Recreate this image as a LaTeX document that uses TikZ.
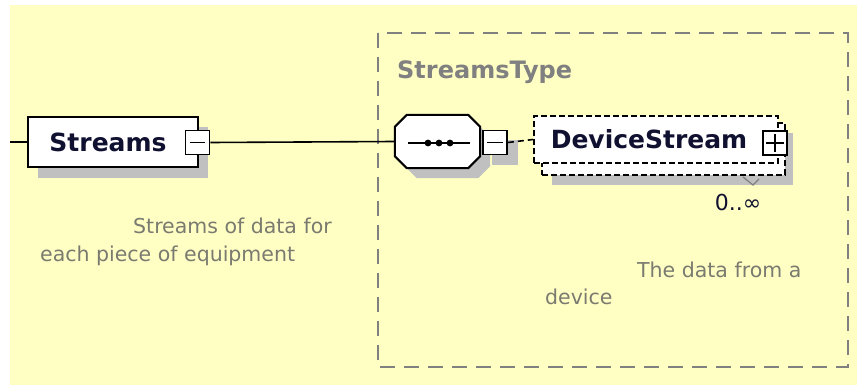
\documentclass[tikz,border=0pt]{standalone}
\usepackage{fontspec}
\setmainfont{DejaVu Sans}
\definecolor{bgyellow}{HTML}{FFFFC4}
\definecolor{shadowgray}{HTML}{C0C0C0}
\definecolor{framegray}{HTML}{808080}
\definecolor{navy}{HTML}{101030}
\definecolor{desc}{HTML}{7A7A70}
\tikzset{
  elembox/.style={draw=black, fill=white, line width=2pt, inner sep=0pt, font=\bfseries\fontsize{25}{28}\selectfont, text=navy},
  optbox/.style={elembox, dashed, dash pattern=on 6pt off 3pt},
  smallbox/.style={draw=black, fill=white, line width=1.8pt, minimum width=24pt, minimum height=24pt, inner sep=0pt},
  shadowfill/.style={fill=shadowgray, draw=none},
  seqbase/.style={minimum width=85pt, minimum height=53pt, inner sep=0pt},
  container/.style={draw=framegray, line width=2pt, dash pattern=on 15pt off 9pt},
  typelabel/.style={text=framegray, font=\bfseries\fontsize{24}{28}\selectfont, inner sep=0pt},
  desctext/.style={text=desc, font=\fontsize{20.5}{24}\selectfont, inner sep=0pt},
  conn/.style={draw=black, line width=1.6pt},
}
\newcommand{\octof}[1]{([xshift=12pt]#1.north west) -- ([xshift=-12pt]#1.north east) -- ([yshift=-12pt]#1.north east)
  -- ([yshift=12pt]#1.south east) -- ([xshift=-12pt]#1.south east) -- ([xshift=12pt]#1.south west)
  -- ([yshift=12pt]#1.south west) -- ([yshift=-12pt]#1.north west) -- cycle}
\begin{document}
\begin{tikzpicture}[x=1pt,y=-1pt]
\useasboundingbox (0,0) rectangle (857,385);
\fill[bgyellow] (10,5) rectangle (857,385);
% container
\draw[container] (378,33) rectangle (848,367);
\node[typelabel, anchor=base west] (stype) at (397,79) {StreamsType};
% Streams element
\fill[shadowfill] (38,127) rectangle (208,178);
\node[elembox, minimum width=170pt, minimum height=50pt] (streams) at (113,142) {\hspace*{-10pt}Streams};
\node[smallbox] (sminus) at (197.5,142.5) {};
\draw[line width=1.6pt] ([xshift=5pt]sminus.west) -- ([xshift=-5pt]sminus.east);
\coordinate (inlet) at (10,142);
\draw[conn] (inlet) -- (streams.west);
% sequence
\node[seqbase] (seqsh) at (447.5,151.5) {};
\node[seqbase] (seq) at (437.5,141.5) {};
\fill[shadowfill] \octof{seqsh};
\draw[line width=2pt, fill=white] \octof{seq};
\draw[line width=1.8pt] (408,143) -- (470,143);
\foreach \cx in {428,439,450} \fill (\cx,143) circle (3.4pt);
\fill[shadowfill] (492,140) rectangle (518,165);
\node[smallbox] (qminus) at (495,142.5) {};
\draw[line width=1.6pt] ([xshift=5pt]qminus.west) -- ([xshift=-5pt]qminus.east);
\draw[conn] (sminus.east) -- (seq.west);
% DeviceStream
\fill[shadowfill] (552,133) rectangle (793,185);
\node[optbox, minimum width=243pt, minimum height=52pt] (devback) at (663.5,149) {};
\node[optbox, minimum width=244pt, minimum height=47pt] (dev) at (656,139.5) {\hspace*{-14pt}DeviceStream};
\node[smallbox] (dplus) at (775,143) {};
\draw[line width=1.6pt] ([xshift=4pt]dplus.west) -- ([xshift=-4pt]dplus.east);
\draw[line width=1.6pt] ([yshift=-4pt]dplus.north) -- ([yshift=4pt]dplus.south);
\draw[conn, dash pattern=on 6pt off 4pt] (qminus.east) -- (dev.west);
% multiplicity
\coordinate (mA) at (743,177);
\coordinate (mB) at (753,185);
\coordinate (mC) at (759,179);
\draw[framegray, line width=1.2pt] (mA) -- (mB) -- (mC);
\node[font=\fontsize{22}{26}\selectfont, text=navy, inner sep=0pt, anchor=base] (mult) at (738,210) {0..∞};
% descriptions
\node[desctext, anchor=base west] (d1a) at (133,233) {Streams of data for};
\node[desctext, anchor=base west] (d1b) at (40,261) {each piece of equipment};
\node[desctext, anchor=base west] (d2a) at (637,277) {The data from a};
\node[desctext, anchor=base west] (d2b) at (545,304) {device};
\end{tikzpicture}
\end{document}
